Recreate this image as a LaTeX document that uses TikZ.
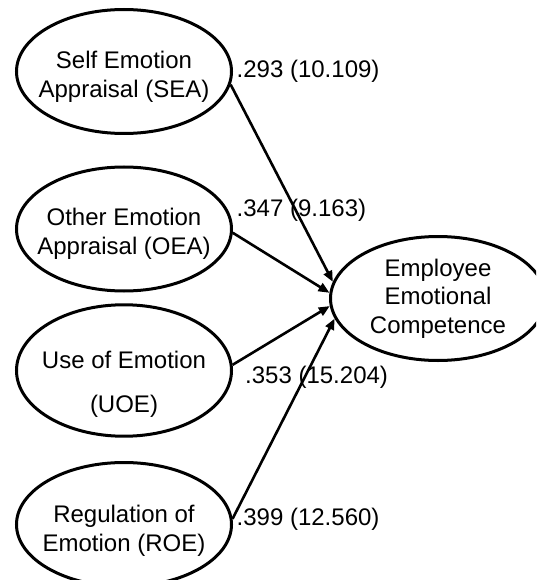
\documentclass[tikz,border=0pt]{standalone}
\usepackage{fontspec}
\setmainfont{Liberation Sans}
\usepackage{tikz}
\usetikzlibrary{
  arrows.meta,
  shapes.geometric,
  positioning
}
\newcommand{\padtop}[1]{\rule{0pt}{#1}}

\begin{document}
\begin{tikzpicture}[
  x=1pt, y=-1pt,
  construct/.style={
    draw=black, ellipse, line width=3pt,
    minimum width=215pt, minimum height=124pt,
    inner xsep=-15pt, inner ysep=0pt,
    font=\fontsize{24}{29}\selectfont, align=center
  },
  arrow/.style={-{Triangle[length=11pt,width=9pt]}, line width=2.6pt},
  pathlabel/.style={font=\fontsize{24}{29}\selectfont, anchor=base west, inner sep=0pt}
]
  \clip (0,0) rectangle (536,580);

  \node[construct] (SEA) at (124,71.5)  {\padtop{27pt}Self Emotion\\Appraisal (SEA)};
  \node[construct] (OEA) at (124,229)   {\padtop{27pt}Other Emotion\\Appraisal (OEA)};
  \node[construct] (UOE) at (124,370.5) {\padtop{44pt}Use of Emotion\\[15pt](UOE)};
  \node[construct] (ROE) at (124,524.5) {\padtop{30pt}Regulation of\\Emotion (ROE)};
  \node[construct] (EEC) at (438,298.5) {Employee\\[-0.7pt]Emotional\\[-0.7pt]Competence};

  \node[pathlabel] (wSEA) at (236.5,77.7)  {.293 (10.109)};
  \node[pathlabel] (wOEA) at (236.5,216.7) {.347 (9.163)};
  \node[pathlabel] (wUOE) at (245,383.3)   {.353 (15.204)};
  \node[pathlabel] (wROE) at (236.5,525)   {.399 (12.560)};

  \foreach \from/\to in {SEA.-7/EEC.171, OEA.-2/EEC.177, UOE.3/EEC.184, ROE.3/EEC.191}
    \draw[arrow] (\from) -- (\to);
\end{tikzpicture}
\end{document}
